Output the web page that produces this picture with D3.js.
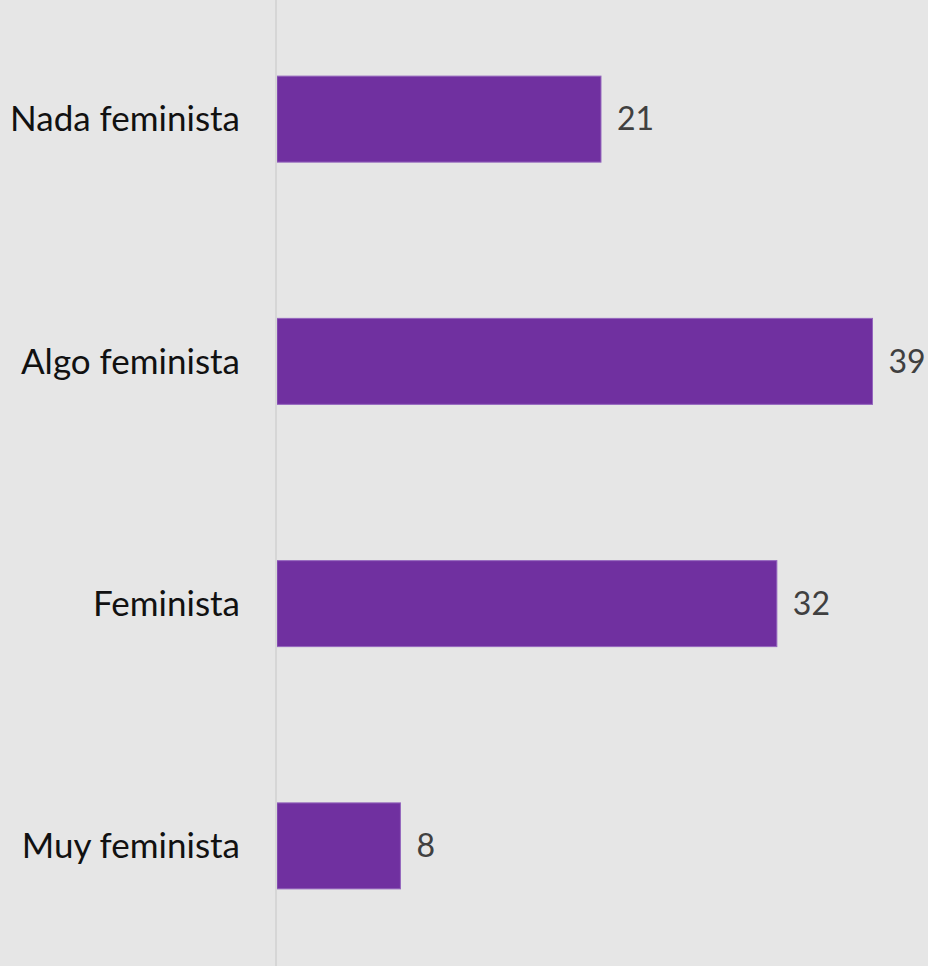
<!DOCTYPE html>
<html>
<head>
<meta charset="utf-8">
<script src="https://cdn.jsdelivr.net/npm/d3@7"></script>
<style>
  body { margin: 0; background: #e6e6e6; }
  svg { display: block; }
</style>
</head>
<body>
<svg id="chart"></svg>
<script>
// categories, top to bottom
var categories = ['Nada feminista', 'Algo feminista', 'Feminista', 'Muy feminista'];
// bar lengths (labels show them rounded)
var values = [21, 38.6, 32.4, 8];
var valueLabels = ['21', '39', '32', '8'];

var width = 928, height = 966;
var svg = d3.select('#chart')
  .attr('width', width)
  .attr('height', height);

svg.append('rect')
  .attr('width', width)
  .attr('height', height)
  .style('fill', '#e6e6e6');

var x = d3.scaleLinear()
  .domain([0, 38.6])
  .range([277, 872.5]);

var y = d3.scaleBand()
  .domain(categories)
  .range([-2, 967])
  .paddingInner(0.645)
  .paddingOuter(0.3225);

// bars
svg.selectAll('.bar')
  .data(values)
  .enter().append('rect')
    .attr('class', 'bar')
    .attr('x', x(0))
    .attr('y', function(d, i){ return y(categories[i]); })
    .attr('width', function(d){ return x(d) - x(0); })
    .attr('height', y.bandwidth())
    .style('fill', '#7030a0')
    .style('stroke', '#9466bd')
    .style('stroke-width', 1);

// axis line
svg.append('line')
  .attr('x1', 276)
  .attr('x2', 276)
  .attr('y1', 0)
  .attr('y2', height)
  .style('stroke', '#d6d6d6')
  .style('stroke-width', 2);

// category labels
svg.selectAll('.cat')
  .data(categories)
  .enter().append('text')
    .attr('class', 'cat')
    .attr('x', 240)
    .attr('y', function(d){ return y(d) + y.bandwidth() / 2; })
    .attr('dy', '0.35em')
    .attr('text-anchor', 'end')
    .style('font-family', 'Lato, "Open Sans", sans-serif')
    .style('font-size', '35px')
    .style('fill', '#111')
    .text(function(d){ return d; });

// value labels
svg.selectAll('.val')
  .data(values)
  .enter().append('text')
    .attr('class', 'val')
    .attr('x', function(d){ return x(d) + 16; })
    .attr('y', function(d, i){ return y(categories[i]) + y.bandwidth() / 2; })
    .attr('dy', '0.35em')
    .style('font-family', 'Lato, "Open Sans", sans-serif')
    .style('font-size', '32px')
    .style('fill', '#404040')
    .text(function(d, i){ return valueLabels[i]; });
</script>
</body>
</html>
